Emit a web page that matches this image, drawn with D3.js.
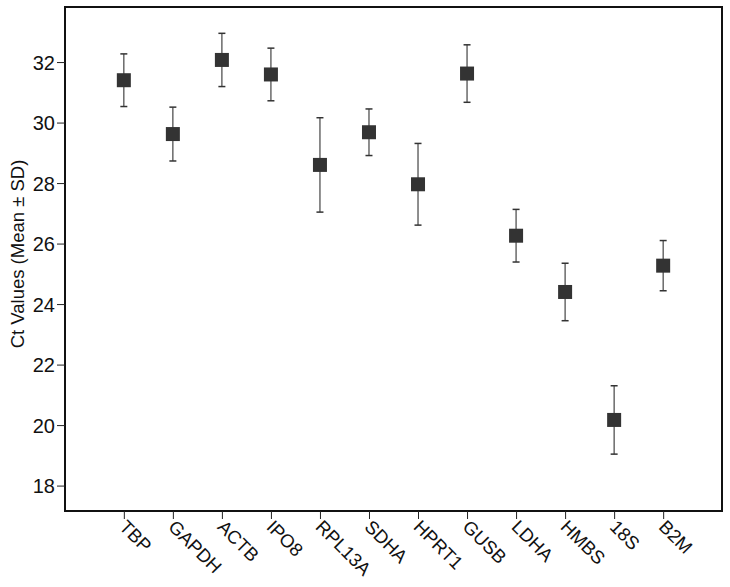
<!DOCTYPE html>
<html>
<head>
<meta charset="utf-8">
<script src="https://cdn.jsdelivr.net/npm/d3@7"></script>
<style>
body { margin: 0; background: #fff; }
svg text { font-family: "Liberation Sans", Arial, sans-serif; fill: #111; }
</style>
</head>
<body>
<svg id="chart" width="730" height="587"></svg>
<script>
var genes = ['TBP','GAPDH','ACTB','IPO8','RPL13A','SDHA','HPRT1','GUSB','LDHA','HMBS','18S','B2M']
var means = [31.40, 29.62, 32.07, 31.59, 28.60, 29.68, 27.96, 31.62, 26.26, 24.40, 20.17, 25.27]
var sds   = [0.87, 0.89, 0.88, 0.87, 1.56, 0.77, 1.35, 0.95, 0.87, 0.95, 1.13, 0.83]
var yTicks = [18, 20, 22, 24, 26, 28, 30, 32]

var mLeft = 65, mRight = 722, mTop = 7, mBottom = 511
var svg = d3.select('#chart')

var x = d3.scalePoint().domain(genes).range([mLeft, mRight]).padding(1.2)
var y = d3.scaleLinear().domain([17.16, 33.82]).range([mBottom, mTop])

// frame
svg.append('rect')
	.attr('x', mLeft).attr('y', mTop)
	.attr('width', mRight - mLeft).attr('height', mBottom - mTop)
	.attr('fill', 'none').attr('stroke', '#111').attr('stroke-width', 2)

// y axis
var ya = svg.append('g').attr('transform', 'translate(' + mLeft + ',0)')
	.call(d3.axisLeft(y).tickValues(yTicks).tickSize(8).tickPadding(2))
ya.select('.domain').remove()
ya.selectAll('line').attr('stroke', '#222')
ya.selectAll('text').style('font-size', '20px').attr('dy', '0.36em')

// x axis
var xa = svg.append('g').attr('transform', 'translate(0,' + mBottom + ')')
	.call(d3.axisBottom(x).tickSize(8).tickPadding(0))
xa.select('.domain').remove()
xa.selectAll('line').attr('stroke', '#222')
xa.selectAll('text')
	.style('font-size', '18.5px')
	.attr('text-anchor', 'start')
	.attr('dy', null)
	.attr('y', 0).attr('x', 0)
	.attr('transform', 'translate(-6,17) rotate(45)')

// y title
svg.append('text')
	.attr('transform', 'translate(24,254) rotate(-90)')
	.attr('text-anchor', 'middle')
	.style('font-size', '18.5px')
	.text('Ct Values (Mean ± SD)')

// error bars + markers
var g = svg.append('g')
genes.forEach(function(d, i){
	var cx = x(d)
	var hi = y(means[i] + sds[i]), lo = y(means[i] - sds[i])
	g.append('line').attr('x1', cx).attr('x2', cx).attr('y1', hi).attr('y2', lo)
		.attr('stroke', '#444').attr('stroke-width', 1.2)
	g.append('line').attr('x1', cx - 3.5).attr('x2', cx + 3.5).attr('y1', hi).attr('y2', hi)
		.attr('stroke', '#333').attr('stroke-width', 1.5)
	g.append('line').attr('x1', cx - 3.5).attr('x2', cx + 3.5).attr('y1', lo).attr('y2', lo)
		.attr('stroke', '#333').attr('stroke-width', 1.5)
	g.append('rect').attr('x', cx - 7).attr('y', y(means[i]) - 7)
		.attr('width', 14).attr('height', 14)
		.attr('fill', '#333')
})
</script>
</body>
</html>
